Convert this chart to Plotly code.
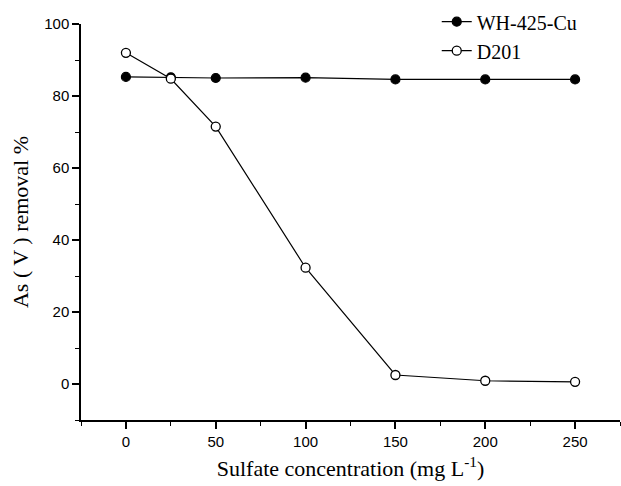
import plotly.graph_objects as go

sulfate = [0, 25, 50, 100, 150, 200, 250]
wh425_cu = [85.3, 85.2, 85.0, 85.1, 84.6, 84.6, 84.6]
d201 = [92.0, 84.8, 71.5, 32.3, 2.5, 0.9, 0.6]

fig = go.Figure()
fig.add_trace(go.Scatter(
    x=sulfate, y=wh425_cu, name="WH-425-Cu", mode="lines+markers",
    line=dict(color="black", width=1.2),
    marker=dict(symbol="circle", size=9, color="black", line=dict(color="black", width=1.2)),
))
fig.add_trace(go.Scatter(
    x=sulfate, y=d201, name="D201", mode="lines+markers",
    line=dict(color="black", width=1.2),
    marker=dict(symbol="circle", size=9, color="white", line=dict(color="black", width=1.3)),
))

tickfont = dict(family="Liberation Sans, Arial", size=15, color="black")
titlefont = dict(family="Liberation Serif, Times New Roman", size=22, color="black")

fig.update_layout(
    width=621, height=486,
    margin=dict(l=81, r=1, t=24, b=66),
    paper_bgcolor="white", plot_bgcolor="white",
    showlegend=True,
    legend=dict(x=0.66, y=1.055, xanchor="left", yanchor="top",
                font=dict(family="Liberation Serif, Times New Roman", size=20, color="black"),
                bgcolor="rgba(0,0,0,0)", tracegroupgap=0, itemwidth=30),
    xaxis=dict(
        range=[-25, 275], tickmode="array", tickvals=[0, 50, 100, 150, 200, 250],
        showline=True, linecolor="black", linewidth=1.5, mirror=False,
        ticks="outside", ticklen=7, tickwidth=1.5, tickcolor="black",
        minor=dict(dtick=25, tick0=0, ticks="outside", ticklen=4, tickwidth=1.2, tickcolor="black"),
        showgrid=False, zeroline=False, tickfont=tickfont,
        title=dict(text="Sulfate concentration (mg L<sup>-1</sup>)", font=titlefont, standoff=12),
    ),
    yaxis=dict(
        range=[-10, 100], tickmode="array", tickvals=[0, 20, 40, 60, 80, 100],
        showline=True, linecolor="black", linewidth=1.5, mirror=False,
        ticks="outside", ticklen=7, tickwidth=1.5, tickcolor="black",
        minor=dict(dtick=10, tick0=0, ticks="outside", ticklen=4, tickwidth=1.2, tickcolor="black"),
        showgrid=False, zeroline=False, tickfont=tickfont,
        title=dict(text="As ( V ) removal %", font=titlefont, standoff=10),
    ),
)

fig.write_html("out.html")
